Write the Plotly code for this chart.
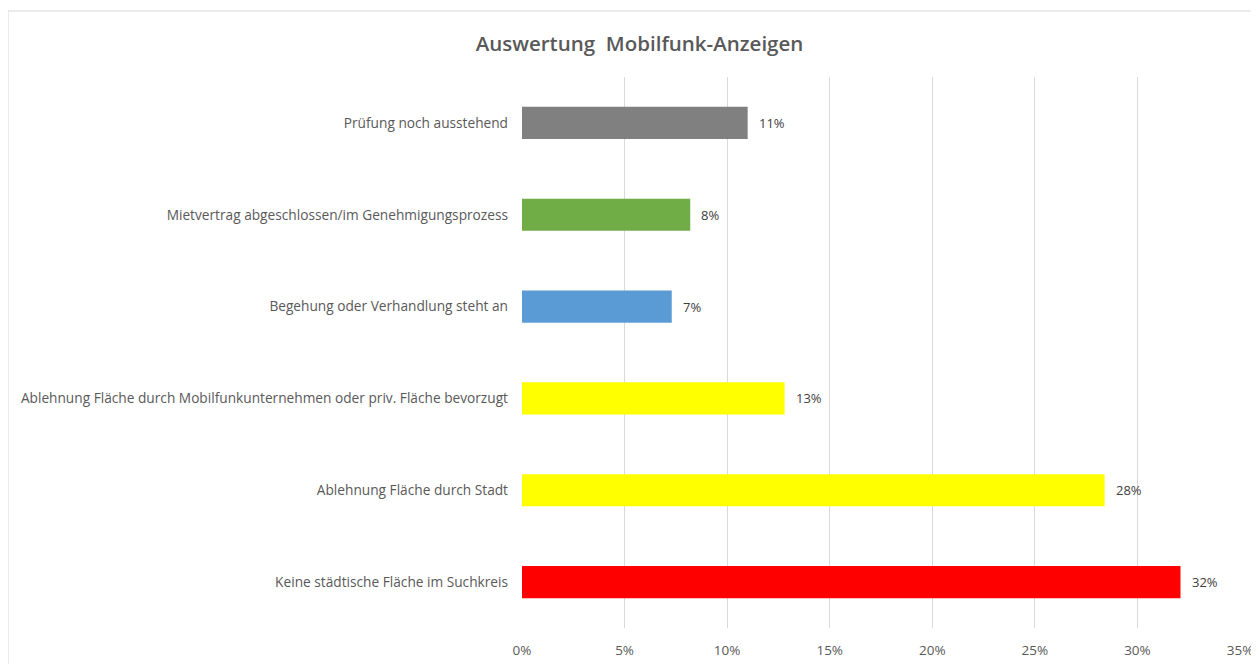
import plotly.graph_objects as go

categories = [
    "Prüfung noch ausstehend",
    "Mietvertrag abgeschlossen/im Genehmigungsprozess",
    "Begehung oder Verhandlung steht an",
    "Ablehnung Fläche durch Mobilfunkunternehmen oder priv. Fläche bevorzugt",
    "Ablehnung Fläche durch Stadt",
    "Keine städtische Fläche im Suchkreis",
]
values = [0.110, 0.082, 0.073, 0.128, 0.284, 0.321]
labels = ["11%", "8%", "7%", "13%", "28%", "32%"]
colors = ["#808080", "#70AD47", "#5B9BD5", "#FFFF00", "#FFFF00", "#FF0000"]

FONT = "Open Sans"

fig = go.Figure(go.Bar(
    y=categories, x=values, orientation="h",
    marker=dict(color=colors, line=dict(width=0)),
    width=0.35,
    hoverinfo="skip",
))

for c, v, t in zip(categories, values, labels):
    fig.add_annotation(x=v, y=c, text=t, showarrow=False, xanchor="left",
                       xshift=9, font=dict(family=FONT, size=13, color="#404040"))

W, H = 1251, 656
L, R, T, B = 514, 19, 69, 36
fig.update_layout(
    width=W, height=H,
    margin=dict(l=L, r=R, t=T, b=B, autoexpand=False),
    paper_bgcolor="white", plot_bgcolor="white",
    title=dict(text="Auswertung  Mobilfunk-Anzeigen", x=631.5 / W, xanchor="center",
               y=1 - 36 / H, yanchor="middle",
               font=dict(family=FONT, size=20.5, color="#595959", weight=600)),
    showlegend=False,
    font=dict(family=FONT, size=13, color="#595959"),
)
fig.update_xaxes(range=[0, 0.35], dtick=0.05, tickformat=".0%", automargin=False,
                 showgrid=True, gridcolor="#D9D9D9", gridwidth=1,
                 zeroline=False, showline=False, ticks="", ticklabelstandoff=12,
                 tickfont=dict(family=FONT, size=13.5, color="#595959"))
fig.update_yaxes(autorange="reversed", showgrid=False, zeroline=False, automargin=False,
                 showline=False, ticks="", ticklabelstandoff=13,
                 tickfont=dict(family=FONT, size=13.7, color="#595959"))

pw = W - L - R
ph = H - T - B
fig.add_shape(type="rect", xref="paper", yref="paper",
              x0=(0 - L) / pw, x1=(W + 20 - L) / pw,
              y0=-(B + 20) / ph, y1=(ph + T - 3) / ph,
              line=dict(color="#D9D9D9", width=1), layer="below")

fig.write_html("out.html")
